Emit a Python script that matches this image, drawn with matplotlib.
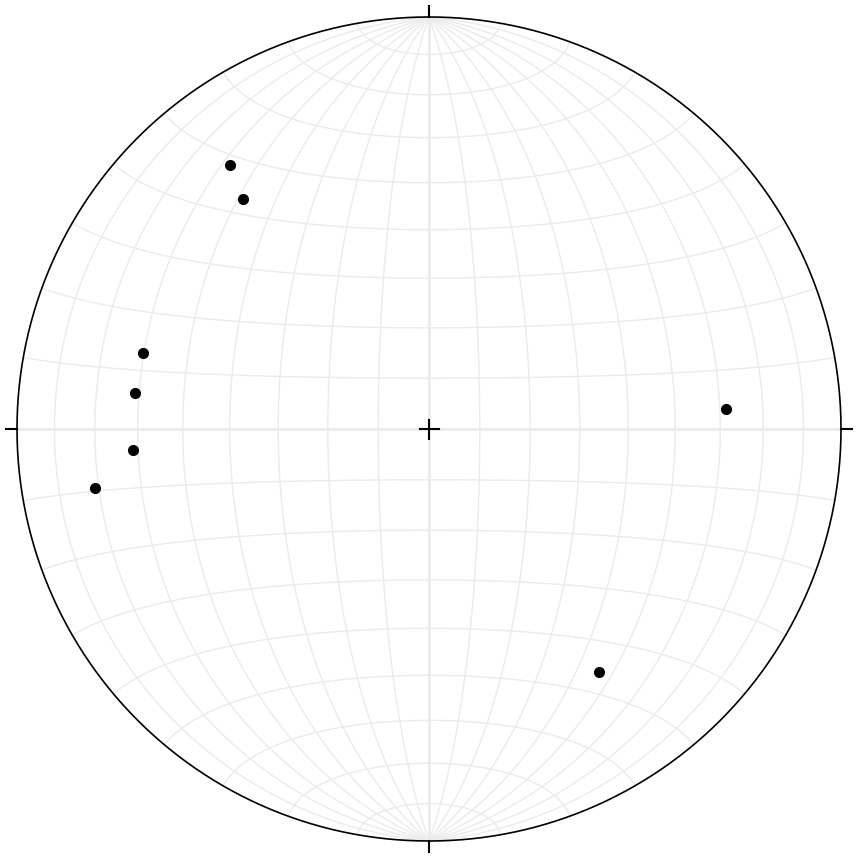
import numpy as np
import matplotlib
matplotlib.use('Agg')
from matplotlib import pyplot as plt

# line data: plunge / trend (degrees), lower hemisphere
plunges = [20.9, 29.0, 29.0, 28.9, 28.8, 18.8, 28.5, 28.8]
trends = [323.0, 321.0, 284.9, 277.0, 265.9, 260.0, 86.1, 145.0]

grid_step = 10

def lambert(lon, lat):
    # transverse equal-area, scaled so the primitive circle has radius 1
    lon = np.radians(lon)
    lat = np.radians(lat)
    k = np.sqrt(2.0 / (1.0 + np.cos(lat) * np.cos(lon)))
    x = k * np.cos(lat) * np.sin(lon)
    y = k * np.sin(lat)
    return x / np.sqrt(2), y / np.sqrt(2)

def line_xy(plunge, trend):
    p = np.radians(np.asarray(plunge))
    t = np.radians(np.asarray(trend))
    r = np.sqrt(2) * np.sin((np.pi / 2 - p) / 2)
    return r * np.sin(t), r * np.cos(t)

fig = plt.figure(figsize=(8.59, 8.58), dpi=100)
ax = fig.add_axes([0, 0, 1, 1])
R = 412.0
ax.set_xlim(-429 / R, (859 - 429) / R)
ax.set_ylim(-429 / R, 429 / R)
ax.axis('off')

gc = '#ebebeb'
t = np.linspace(-90, 90, 361)
for v in range(-90 + grid_step, 90, grid_step):
    lw = 2.0 if v == 0 else 1.0
    x, y = lambert(np.full_like(t, v), t)
    ax.plot(x, y, color=gc, lw=lw, zorder=1)
    x, y = lambert(t, np.full_like(t, v))
    ax.plot(x, y, color=gc, lw=lw, zorder=1)

a = np.linspace(0, 2 * np.pi, 721)
ax.plot(np.cos(a), np.sin(a), color='black', lw=1.2, zorder=3)

# cardinal ticks and centre cross
tk = 11 / R
for dx, dy in [(0, 1), (0, -1), (1, 0), (-1, 0)]:
    ax.plot([dx, dx * (1 + tk)], [dy, dy * (1 + tk)], color='black', lw=1.5, zorder=3)
c = 9.5 / R
ax.plot([-c, c], [0, 0], color='black', lw=1.5, zorder=3)
ax.plot([0, 0], [-c, c], color='black', lw=1.5, zorder=3)

x, y = line_xy(plunges, trends)
ax.plot(x, y, 'o', color='black', ms=7, zorder=4)

fig.savefig('out.png', dpi=100)
